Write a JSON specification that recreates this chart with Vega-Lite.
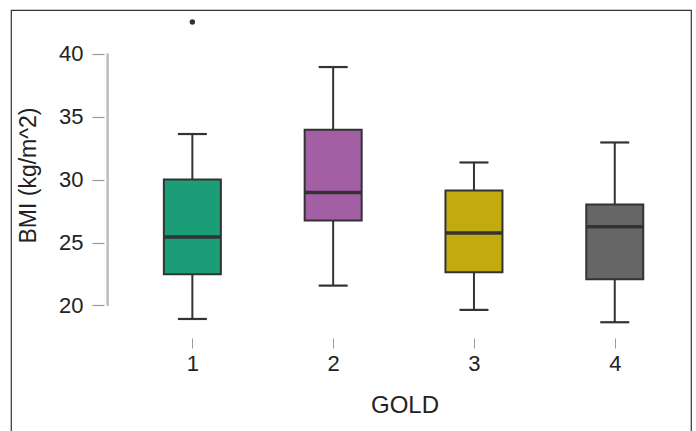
{
  "$schema": "https://vega.github.io/schema/vega-lite/v6.json",
  "width": 680,
  "height": 422,
  "autosize": {"type": "none"},
  "padding": {"left": 11, "top": 10, "right": 5, "bottom": 0},
  "background": "white",
  "config": {
    "view": {"stroke": "#333333", "strokeWidth": 1.2},
    "font": "Liberation Sans"
  },
  "datasets": {
    "stats": [
      {"GOLD": 1, "lower": 18.93, "q1": 22.48, "median": 25.44, "q3": 30.0, "upper": 33.62},
      {"GOLD": 2, "lower": 21.58, "q1": 26.75, "median": 28.97, "q3": 33.96, "upper": 38.94},
      {"GOLD": 3, "lower": 19.65, "q1": 22.65, "median": 25.75, "q3": 29.13, "upper": 31.36},
      {"GOLD": 4, "lower": 18.67, "q1": 22.09, "median": 26.25, "q3": 28.02, "upper": 32.95}
    ],
    "outliers": [
      {"GOLD": 1, "BMI": 42.52}
    ]
  },
  "layer": [
    {
      "data": {"name": "stats"},
      "mark": {"type": "rule", "color": "#333333", "strokeWidth": 2},
      "encoding": {
        "x": {
          "field": "GOLD", "type": "quantitative",
          "scale": {"domain": [-0.2526, 4.506], "nice": false, "zero": false},
          "axis": {
            "values": [1, 2, 3, 4], "format": "d", "orient": "bottom", "offset": -94,
            "domain": false, "grid": false, "tickSize": 10, "tickColor": "#999999", "tickWidth": 1,
            "labelFontSize": 22, "labelColor": "#222222", "labelPadding": 5, "labelFont": "Liberation Sans",
            "title": "GOLD", "titleFontSize": 24, "titleFontWeight": "normal", "titleColor": "#222222",
            "titleX": 393.5, "titleY": 67, "titleBaseline": "middle", "titleAlign": "center", "titleFont": "Liberation Sans"
          }
        },
        "y": {
          "field": "lower", "type": "quantitative",
          "scale": {"domain": [9.952, 43.471], "nice": false, "zero": false},
          "axis": {
            "values": [20, 25, 30, 35, 40], "orient": "left", "offset": -93,
            "domain": false, "grid": false, "tickSize": 12, "tickColor": "#999999", "tickWidth": 1.2,
            "labelFontSize": 22, "labelColor": "#222222", "labelPadding": 9, "labelFont": "Liberation Sans",
            "title": "BMI (kg/m^2)", "titleFontSize": 23, "titleFontWeight": "normal", "titleColor": "#222222",
            "titleX": -76, "titleY": 165, "titleAngle": -90, "titleBaseline": "middle", "titleAlign": "center", "titleFont": "Liberation Sans"
          }
        },
        "y2": {"field": "upper"}
      }
    },
    {
      "data": {"name": "stats"},
      "mark": {"type": "rule", "color": "#bbbbbb", "strokeWidth": 1.6},
      "encoding": {
        "x": {"datum": 0.398, "type": "quantitative"},
        "y": {"datum": 20, "type": "quantitative"},
        "y2": {"datum": 40}
      }
    },
    {
      "data": {"name": "stats"},
      "mark": {"type": "bar", "size": 57, "stroke": "#333333", "strokeWidth": 2},
      "encoding": {
        "x": {"field": "GOLD", "type": "quantitative"},
        "y": {"field": "q1", "type": "quantitative"},
        "y2": {"field": "q3"},
        "color": {
          "field": "GOLD", "type": "nominal",
          "scale": {"domain": [1, 2, 3, 4], "range": ["#1b9e77", "#a25fa4", "#c2ab0f", "#666666"]},
          "legend": null
        }
      }
    },
    {
      "data": {"name": "stats"},
      "mark": {"type": "tick", "orient": "horizontal", "size": 57, "thickness": 3.5, "color": "#333333", "opacity": 1},
      "encoding": {
        "x": {"field": "GOLD", "type": "quantitative"},
        "y": {"field": "median", "type": "quantitative"}
      }
    },
    {
      "data": {"name": "stats"},
      "mark": {"type": "tick", "orient": "horizontal", "size": 29, "thickness": 2.2, "color": "#333333", "opacity": 1},
      "encoding": {
        "x": {"field": "GOLD", "type": "quantitative"},
        "y": {"field": "upper", "type": "quantitative"}
      }
    },
    {
      "data": {"name": "stats"},
      "mark": {"type": "tick", "orient": "horizontal", "size": 29, "thickness": 2.2, "color": "#333333", "opacity": 1},
      "encoding": {
        "x": {"field": "GOLD", "type": "quantitative"},
        "y": {"field": "lower", "type": "quantitative"}
      }
    },
    {
      "data": {"name": "outliers"},
      "mark": {"type": "point", "filled": true, "size": 30, "color": "#333333", "opacity": 1},
      "encoding": {
        "x": {"field": "GOLD", "type": "quantitative"},
        "y": {"field": "BMI", "type": "quantitative"}
      }
    }
  ]
}
